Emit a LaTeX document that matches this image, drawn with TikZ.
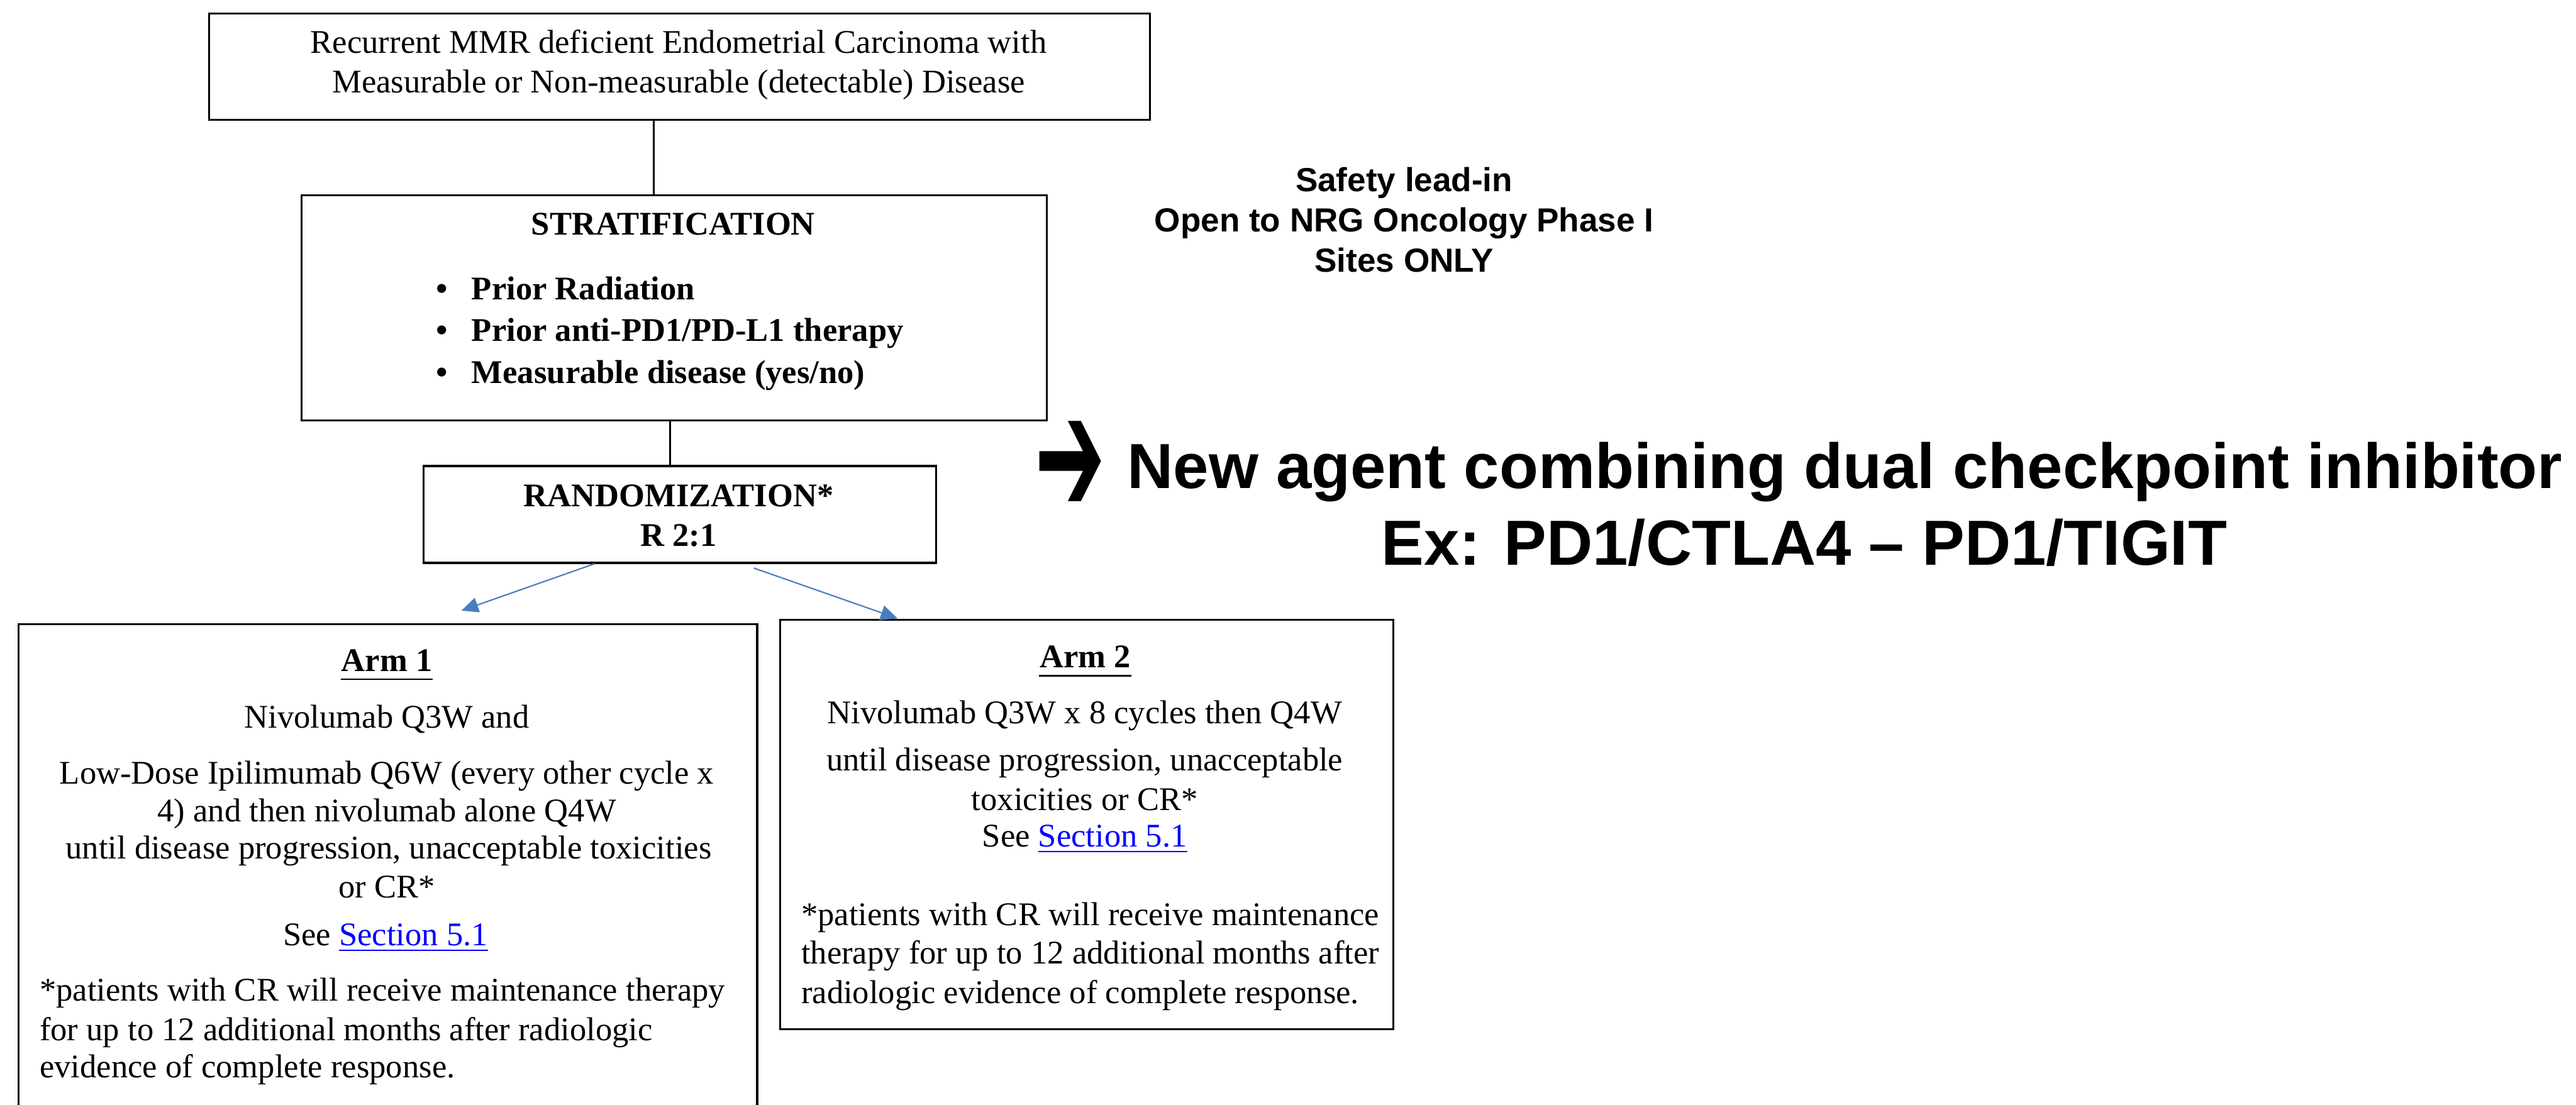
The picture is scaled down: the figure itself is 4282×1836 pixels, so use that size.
\documentclass[tikz,border=0pt]{standalone}
\usepackage{fontspec}
\usepackage{graphicx}
\setmainfont{Liberation Serif}
\newfontfamily\arialfont{Liberation Sans}
\newfontfamily\symfont{DejaVu Sans}
\usetikzlibrary{arrows.meta,calc}
\definecolor{armblue}{RGB}{74,126,187}
\definecolor{linkblue}{RGB}{0,0,255}
\begin{document}
\begin{tikzpicture}[x=0.2pt,y=-0.2pt,
  boxn/.style={draw, line width=0.65pt, inner sep=0pt, anchor=north west},
  txt/.style={anchor=base, inner sep=0pt, font=\fontsize{11}{13}\selectfont},
  txtb/.style={txt, font=\fontsize{11}{13}\selectfont\bfseries},
  txtl/.style={txt, anchor=base west},
  sanst/.style={anchor=base, inner sep=0pt, font=\arialfont\bfseries\fontsize{11.1}{13}\selectfont},
  bigt/.style={inner sep=0pt, font=\arialfont\bfseries\fontsize{21.2}{25}\selectfont},
  conn/.style={line width=0.65pt},
  barrow/.style={draw=armblue, line width=0.45pt, -{Triangle[length=5.6pt,width=5pt]}},
  uline/.style={line width=0.6pt}]
\useasboundingbox (0,0) rectangle (4282,1836);
\clip (0,0) rectangle (4282,1836);

% boxes
\node[boxn, minimum width=312.8pt, minimum height=35.4pt] (top) at (346,21) {};
\node[boxn, minimum width=247.6pt, minimum height=74.8pt] (strat) at (500,323) {};
\node[boxn, minimum width=170.4pt, minimum height=32.2pt] (rand) at (702,773) {};
\node[boxn, minimum width=245.6pt, minimum height=182.8pt] (arm1) at (29,1036) {};
\node[boxn, minimum width=203.8pt, minimum height=136pt] (arm2) at (1295,1029) {};

% connectors
\coordinate (l1) at (1087,0);
\coordinate (l2) at (1114,0);
\draw[conn] (l1 |- top.south) -- (l1 |- strat.north);
\draw[conn] (l2 |- strat.south) -- (l2 |- rand.north);
\coordinate (a1s) at ($(rand.south west)+(286,0)$);
\coordinate (a1e) at ($(arm1.north west)+(738,-21)$);
\coordinate (a2s) at ($(rand.south west)+(551,7)$);
\coordinate (a2e) at ($(arm2.north west)+(197,-1)$);
\draw[barrow] (a1s) -- (a1e);
\draw[barrow] (a2s) -- (a2e);

% top box text
\node[txt] (t1) at (1128,88) {Recurrent MMR deficient Endometrial Carcinoma with};
\node[txt] (t2) at (1128,154) {Measurable or Non-measurable (detectable) Disease};

% stratification
\node[txtb] (s0) at (1119,390) {STRATIFICATION};
\node[txtb] (b1) at (735,498) {•};
\node[txtb] (b2) at (735,567) {•};
\node[txtb] (b3) at (735,637) {•};
\node[txtb, anchor=base west] (s1) at (783,498) {Prior Radiation};
\node[txtb, anchor=base west] (s2) at (783,567) {Prior anti-PD1/PD-L1 therapy};
\node[txtb, anchor=base west] (s3) at (783,637) {Measurable disease (yes/no)};

% randomization
\node[txtb] (r1) at (1128,842) {RANDOMIZATION*};
\node[txtb] (r2) at (1128,908) {R 2:1};

% arm 1
\node[txtb] (h1) at (643,1116) {Arm 1};
\draw[uline] ($(h1.base west)+(0,13)$) -- ($(h1.base east)+(0,13)$);
\node[txt] (p1) at (643,1210) {Nivolumab Q3W and};
\node[txt] (p2) at (643,1303) {Low-Dose Ipilimumab Q6W (every other cycle x};
\node[txt] (p3) at (643,1366) {4) and then nivolumab alone Q4W};
\node[txt] (p4) at (646,1428) {until disease progression, unacceptable toxicities};
\node[txt] (p5) at (643,1492) {or CR*};
\node[txt] (p6) at (641,1572) {See {\color{linkblue}\underline{Section 5.1}}};
\node[txtl] (f1) at (65,1664) {*patients with CR will receive maintenance therapy};
\node[txtl] (f2) at (65,1730) {for up to 12 additional months after radiologic};
\node[txtl] (f3) at (65,1791) {evidence of complete response.};

% arm 2
\node[txtb] (h2) at (1804,1110) {Arm 2};
\draw[uline] ($(h2.base west)+(0,13)$) -- ($(h2.base east)+(0,13)$);
\node[txt] (q1) at (1803,1203) {Nivolumab Q3W x 8 cycles then Q4W};
\node[txt] (q2) at (1803,1281) {until disease progression, unacceptable};
\node[txt] (q3) at (1803,1347) {toxicities or CR*};
\node[txt] (q4) at (1803,1408) {See {\color{linkblue}\underline{Section 5.1}}};
\node[txtl] (g1) at (1331,1538) {*patients with CR will receive maintenance};
\node[txtl] (g2) at (1331,1602) {therapy for up to 12 additional months after};
\node[txtl] (g3) at (1331,1668) {radiologic evidence of complete response.};

% right notes
\node[sanst] (n1) at (2334,318) {Safety lead-in};
\node[sanst] (n2) at (2334,385) {Open to NRG Oncology Phase I};
\node[sanst] (n3) at (2334,452) {Sites ONLY};

\node[inner sep=0pt, anchor=center, font=\symfont\bfseries\fontsize{28}{32}\selectfont] (ar) at (1779,777) {\scalebox{1}[2]{➔}};
\node[bigt, anchor=base west] (m1) at (1873,812) {New agent combining dual checkpoint inhibitor};
\node[bigt, anchor=base] (m2) at (2999,939) {Ex: PD1/CTLA4 – PD1/TIGIT};
\end{tikzpicture}
\end{document}
